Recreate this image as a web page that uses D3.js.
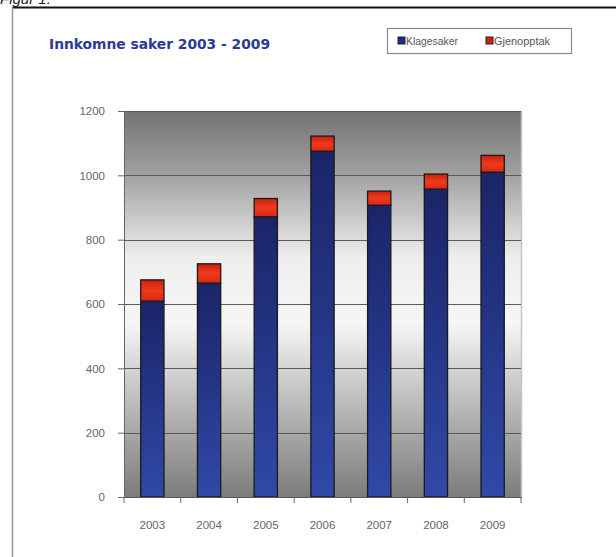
<!DOCTYPE html>
<html><head><meta charset="utf-8">
<script src="https://cdn.jsdelivr.net/npm/d3@7/dist/d3.min.js"></script>
<style>body{margin:0;background:#fff}svg{display:block}</style>
</head><body>
<svg id="c" width="616" height="557"></svg>
<script>
const years = ["2003","2004","2005","2006","2007","2008","2009"];
const klagesaker = [609, 665, 871, 1075, 907, 957, 1010];
const gjenopptak = [66, 60, 57, 47, 44, 47, 52];
const yTicks = [0, 200, 400, 600, 800, 1000, 1200];
const seriesNames = ["Klagesaker", "Gjenopptak"];

const svg = d3.select("#c");
const defs = svg.append("defs");

// frame
svg.append("text").attr("x", 0).attr("y", 4).attr("font-family", "Liberation Sans, Arial").attr("font-size", 15)
  .attr("font-style", "italic").attr("fill", "#222").text("Figur 1.");
svg.append("line").attr("x1", 12).attr("x2", 616).attr("y1", 7.5).attr("y2", 7.5).attr("stroke", "#111").attr("stroke-width", 2);
svg.append("line").attr("x1", 12.5).attr("x2", 12.5).attr("y1", 7).attr("y2", 557).attr("stroke", "#999").attr("stroke-width", 1.5);

const L = 124, R = 521, T = 111, B = 497;
const x = d3.scaleBand().domain(years).range([L, R]).paddingInner(0.59).paddingOuter(0.295);
const y = d3.scaleLinear().domain([0, 1200]).range([B, T]);

// background gradient
const bg = defs.append("linearGradient").attr("id", "bg").attr("x1", 0).attr("x2", 0).attr("y1", 0).attr("y2", 1);
[[0, "#737373"], [0.17, "#a3a3a3"], [0.38, "#eeeeee"], [0.55, "#f6f6f6"], [0.75, "#bdbdbd"], [1, "#7c7c7c"]]
  .forEach(([o, c]) => bg.append("stop").attr("offset", o).attr("stop-color", c));
svg.append("rect").attr("x", L).attr("y", T).attr("width", R - L).attr("height", B - T).attr("fill", "url(#bg)");
svg.append("line").attr("x1", R + 0.5).attr("x2", R + 0.5).attr("y1", T).attr("y2", B).attr("stroke", "#c4c4c4").attr("stroke-width", 1.5);

// grid
svg.append("g").selectAll("line").data(yTicks.filter(d => d > 0)).join("line")
  .attr("x1", L).attr("x2", R).attr("y1", d => Math.round(y(d)) + 0.5).attr("y2", d => Math.round(y(d)) + 0.5)
  .attr("stroke", "#5a5a5a").attr("stroke-width", 1);

// bar gradients
const gb = defs.append("linearGradient").attr("id", "gb").attr("x1", 0).attr("x2", 0).attr("y1", 0).attr("y2", 1);
gb.append("stop").attr("offset", 0).attr("stop-color", "#1a2468");
gb.append("stop").attr("offset", 1).attr("stop-color", "#3049a8");
const gr = defs.append("linearGradient").attr("id", "gr").attr("x1", 0).attr("x2", 0).attr("y1", 0).attr("y2", 1);
gr.append("stop").attr("offset", 0).attr("stop-color", "#c8200f");
gr.append("stop").attr("offset", 0.5).attr("stop-color", "#f03a1c");
gr.append("stop").attr("offset", 1).attr("stop-color", "#d52a14");

const bars = svg.append("g");
years.forEach((yr, i) => {
  const k = klagesaker[i], g = gjenopptak[i];
  bars.append("rect").attr("x", x(yr)).attr("width", x.bandwidth())
    .attr("y", y(k)).attr("height", y(0) - y(k))
    .attr("fill", "url(#gb)").attr("stroke", "#1a1a1a").attr("stroke-width", 1.3);
  bars.append("rect").attr("x", x(yr)).attr("width", x.bandwidth())
    .attr("y", y(k + g)).attr("height", y(k) - y(k + g))
    .attr("fill", "url(#gr)").attr("stroke", "#1a1a1a").attr("stroke-width", 1.3);
});

// axes
const yAxis = svg.append("g").attr("transform", `translate(${L},0)`)
  .call(d3.axisLeft(y).tickValues(yTicks).tickSize(6).tickPadding(13).tickFormat(d3.format("d")));
yAxis.select(".domain").attr("stroke", "#666");
yAxis.selectAll(".tick line").attr("stroke", "#666");
yAxis.selectAll("text").attr("font-family", "Liberation Sans, Arial").attr("font-size", 11.5).attr("fill", "#666");

const xb = d3.scalePoint().domain(d3.range(8)).range([L, R]);
const xt = svg.append("g").attr("transform", `translate(0,${B})`);
xt.append("line").attr("x1", L).attr("x2", R + 1).attr("y1", 0.5).attr("y2", 0.5).attr("stroke", "#555");
xt.selectAll("line.t").data(d3.range(8)).join("line").attr("class", "t")
  .attr("x1", d => xb(d)).attr("x2", d => xb(d)).attr("y1", 0).attr("y2", 6).attr("stroke", "#666");
xt.selectAll("text").data(years).join("text")
  .attr("x", d => x(d) + x.bandwidth() / 2).attr("y", 32).attr("text-anchor", "middle")
  .attr("font-family", "Liberation Sans, Arial").attr("font-size", 11.5).attr("fill", "#666").text(d => d);

// title
svg.append("text").attr("x", 49).attr("y", 49).attr("font-family", "DejaVu Sans").attr("font-weight", "bold")
  .attr("font-size", 14).attr("fill", "#2b3a96").attr("textLength", 221).attr("lengthAdjust", "spacingAndGlyphs")
  .text("Innkomne saker 2003 - 2009");

// legend
const lg = svg.append("g");
lg.append("rect").attr("x", 387.5).attr("y", 28.5).attr("width", 184).attr("height", 25)
  .attr("fill", "#fff").attr("stroke", "#8a8a8a").attr("stroke-width", 1.2);
const lcol = ["#1a2a8a", "#d8200f"];
const lx = [398, 486];
seriesNames.forEach((n, i) => {
  lg.append("rect").attr("x", lx[i]).attr("y", 37).attr("width", 7).attr("height", 7)
    .attr("fill", lcol[i]).attr("stroke", "#222").attr("stroke-width", 1);
  lg.append("text").attr("x", lx[i] + 8).attr("y", 44.5).attr("font-family", "Liberation Sans, Arial")
    .attr("font-size", 10).attr("fill", "#555").attr("textLength", i === 0 ? 52 : 56).attr("lengthAdjust", "spacingAndGlyphs").text(n);
});
</script>
</body></html>
